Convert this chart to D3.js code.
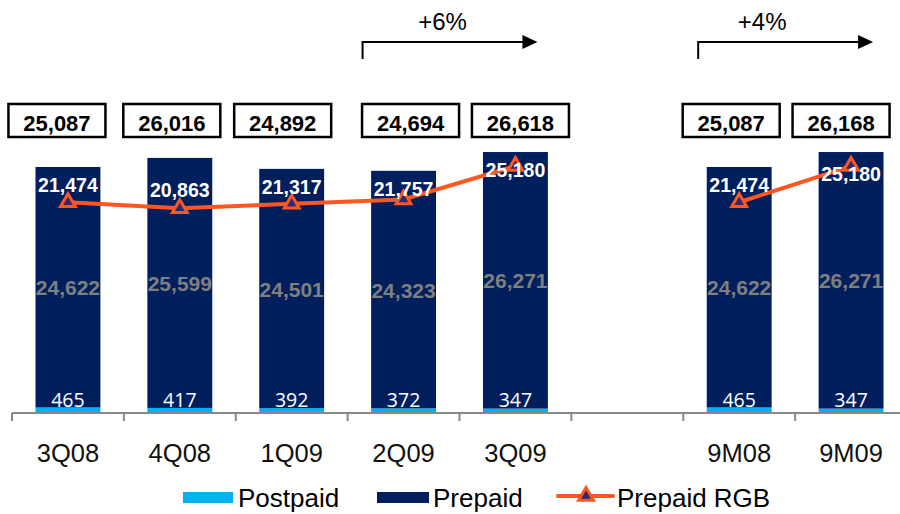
<!DOCTYPE html>
<html>
<head>
<meta charset="utf-8">
<script src="https://cdn.jsdelivr.net/npm/d3@7/dist/d3.min.js"></script>
<style>
  html, body { margin: 0; padding: 0; background: #fff; }
  svg { display: block; }
</style>
</head>
<body>
<svg id="chart" width="900" height="514"></svg>
<script>
// Subscriber base by period (thousands)
const periods   = ["3Q08", "4Q08", "1Q09", "2Q09", "3Q09", "9M08", "9M09"];
const postpaid  = [465, 417, 392, 372, 347, 465, 347];
const prepaid   = [24622, 25599, 24501, 24323, 26271, 24622, 26271];
const totals    = [25087, 26016, 24892, 24694, 26618, 25087, 26168];
const prepaidRGB = [21474, 20863, 21317, 21757, 25180, 21474, 25180];
// Line groups: quarterly run and year-to-date pair
const rgbGroups = [["3Q08", "4Q08", "1Q09", "2Q09", "3Q09"], ["9M08", "9M09"]];
const growth = [
  { from: "2Q09", to: "3Q09", label: "+6%" },
  { from: "9M08", to: "9M09", label: "+4%" }
];

// Slot list with a blank gap between the quarters and the nine-month totals
const slots = ["3Q08", "4Q08", "1Q09", "2Q09", "3Q09", "_gap", "9M08", "9M09"];

// Layout tweaks for the total boxes and growth labels
const boxNudge = [-11, -8, -9, 7, 5, -8, -10];
const growthTextNudge = [80, 64];

const C = {
  navy: "#001f5c",
  light: "#00b0f0",
  orange: "#ff5722",
  marker: "#2a2a78",
  gray: "#7f7f7f",
  axis: "#898989"
};

const svg = d3.select("#chart");

const x = d3.scaleBand().domain(slots).range([12, 907]).paddingInner(0.42).paddingOuter(0.21);
const y = d3.scaleLinear().domain([0, 30000]).range([412, 119]);
const cx = p => x(p) + x.bandwidth() / 2;

const rows = periods.map((p, i) => ({
  p, post: postpaid[i], pre: prepaid[i], total: totals[i], rgb: prepaidRGB[i], nudge: boxNudge[i]
}));

// Stacked bars: postpaid at the base, prepaid on top
const stack = d3.stack().keys(["post", "pre"]);
const layers = stack(rows);
const colors = { post: C.light, pre: C.navy };

svg.append("g").selectAll("g")
  .data(layers)
  .join("g")
  .attr("fill", d => colors[d.key])
  .selectAll("rect")
  .data(d => d)
  .join("rect")
  .attr("x", d => x(d.data.p))
  .attr("width", x.bandwidth())
  .attr("y", d => y(d[1]))
  .attr("height", d => y(d[0]) - y(d[1]));

// Category axis with ticks at slot boundaries
const axisG = svg.append("g");
axisG.append("line")
  .attr("x1", 12).attr("x2", 900)
  .attr("y1", 413).attr("y2", 413)
  .attr("stroke", C.axis).attr("stroke-width", 2);
axisG.selectAll("line.tick")
  .data(slots)
  .join("line")
  .attr("class", "tick")
  .attr("x1", d => x(d) - x.step() * x.paddingOuter())
  .attr("x2", d => x(d) - x.step() * x.paddingOuter())
  .attr("y1", 413).attr("y2", 421)
  .attr("stroke", C.axis).attr("stroke-width", 2);
axisG.selectAll("text")
  .data(periods)
  .join("text")
  .attr("x", d => cx(d))
  .attr("y", 462)
  .attr("text-anchor", "middle")
  .attr("font-family", "Liberation Sans, Arial, sans-serif")
  .attr("font-size", 25.5)
  .attr("fill", "#111")
  .text(d => d);

// Prepaid segment values (grey, mid-segment)
svg.append("g").selectAll("text")
  .data(layers[1])
  .join("text")
  .attr("x", d => cx(d.data.p))
  .attr("y", d => (y(d[0]) + y(d[1])) / 2 + 8)
  .attr("text-anchor", "middle")
  .attr("font-family", "Liberation Sans, Arial, sans-serif")
  .attr("font-weight", "bold")
  .attr("font-size", 21)
  .attr("fill", C.gray)
  .text(d => d3.format(",")(d.data.pre));

// Postpaid values near the base
svg.append("g").selectAll("text")
  .data(rows)
  .join("text")
  .attr("x", d => cx(d.p))
  .attr("y", 407)
  .attr("text-anchor", "middle")
  .attr("font-family", "Open Sans, sans-serif")
  .attr("font-size", 19.5)
  .attr("fill", "#fff")
  .text(d => d3.format(",")(d.post));

// Prepaid RGB line, one path per group
const byP = new Map(rows.map(d => [d.p, d]));
const line = d3.line().x(d => cx(d.p)).y(d => y(d.rgb));
svg.append("g").selectAll("path")
  .data(rgbGroups.map(g => g.map(p => byP.get(p))))
  .join("path")
  .attr("d", line)
  .attr("fill", "none")
  .attr("stroke", C.orange)
  .attr("stroke-width", 4);

const tri = d3.symbol().type(d3.symbolTriangle).size(95);
svg.append("g").selectAll("path")
  .data(rows)
  .join("path")
  .attr("d", tri)
  .attr("transform", d => `translate(${cx(d.p)},${y(d.rgb)})`)
  .attr("fill", C.marker)
  .attr("stroke", C.orange)
  .attr("stroke-width", 3);

// RGB value labels inside the top of each bar
svg.append("g").selectAll("text")
  .data(rows)
  .join("text")
  .attr("x", d => cx(d.p))
  .attr("y", d => Math.max(y(d.rgb) - 11, y(d.total) + 25))
  .attr("text-anchor", "middle")
  .attr("font-family", "Liberation Sans, Arial, sans-serif")
  .attr("font-weight", "bold")
  .attr("font-size", 19.5)
  .attr("fill", "#fff")
  .text(d => d3.format(",")(d.rgb));

// Total boxes above the bars
const boxW = 97, boxH = 33, boxTop = 104;
const boxes = svg.append("g").selectAll("g")
  .data(rows)
  .join("g")
  .attr("transform", d => `translate(${cx(d.p) + d.nudge},0)`);
boxes.append("rect")
  .attr("x", -boxW / 2).attr("y", boxTop)
  .attr("width", boxW).attr("height", boxH)
  .attr("fill", "#fff")
  .attr("stroke", "#000")
  .attr("stroke-width", 2.5);
boxes.append("text")
  .attr("x", 0).attr("y", boxTop + 27)
  .attr("text-anchor", "middle")
  .attr("font-family", "Liberation Sans, Arial, sans-serif")
  .attr("font-weight", "bold")
  .attr("font-size", 22)
  .attr("fill", "#000")
  .text(d => d3.format(",")(d.total));

// Growth arrows
const ar = svg.append("g");
growth.forEach((g, i) => {
  const x0 = cx(g.from) - 41, x1 = cx(g.to) + 22, yl = 42;
  ar.append("path")
    .attr("d", `M${x0},59 V${yl} H${x1 - 14}`)
    .attr("fill", "none").attr("stroke", "#000").attr("stroke-width", 2);
  ar.append("path")
    .attr("d", `M${x1 - 15},${yl - 7} L${x1},${yl} L${x1 - 15},${yl + 7} Z`)
    .attr("fill", "#000");
  ar.append("text")
    .attr("x", x0 + growthTextNudge[i]).attr("y", 30)
    .attr("text-anchor", "middle")
    .attr("font-family", "Liberation Sans, Arial, sans-serif")
    .attr("font-size", 24)
    .attr("fill", "#000")
    .text(g.label);
});

// Legend
const lg = svg.append("g").attr("font-family", "Liberation Sans, Arial, sans-serif").attr("font-size", 26);
lg.append("rect").attr("x", 183).attr("y", 492).attr("width", 50).attr("height", 11).attr("fill", C.light);
lg.append("text").attr("x", 238).attr("y", 507).text("Postpaid");
lg.append("rect").attr("x", 377).attr("y", 492).attr("width", 52).attr("height", 11).attr("fill", C.navy);
lg.append("text").attr("x", 433).attr("y", 507).text("Prepaid");
lg.append("line").attr("x1", 558).attr("x2", 613).attr("y1", 496).attr("y2", 496)
  .attr("stroke", C.orange).attr("stroke-width", 4).attr("stroke-linecap", "round");
lg.append("path").attr("d", tri).attr("transform", "translate(586,496)")
  .attr("fill", C.marker).attr("stroke", C.orange).attr("stroke-width", 3);
lg.append("text").attr("x", 617).attr("y", 507).text("Prepaid RGB");
</script>
</body>
</html>
